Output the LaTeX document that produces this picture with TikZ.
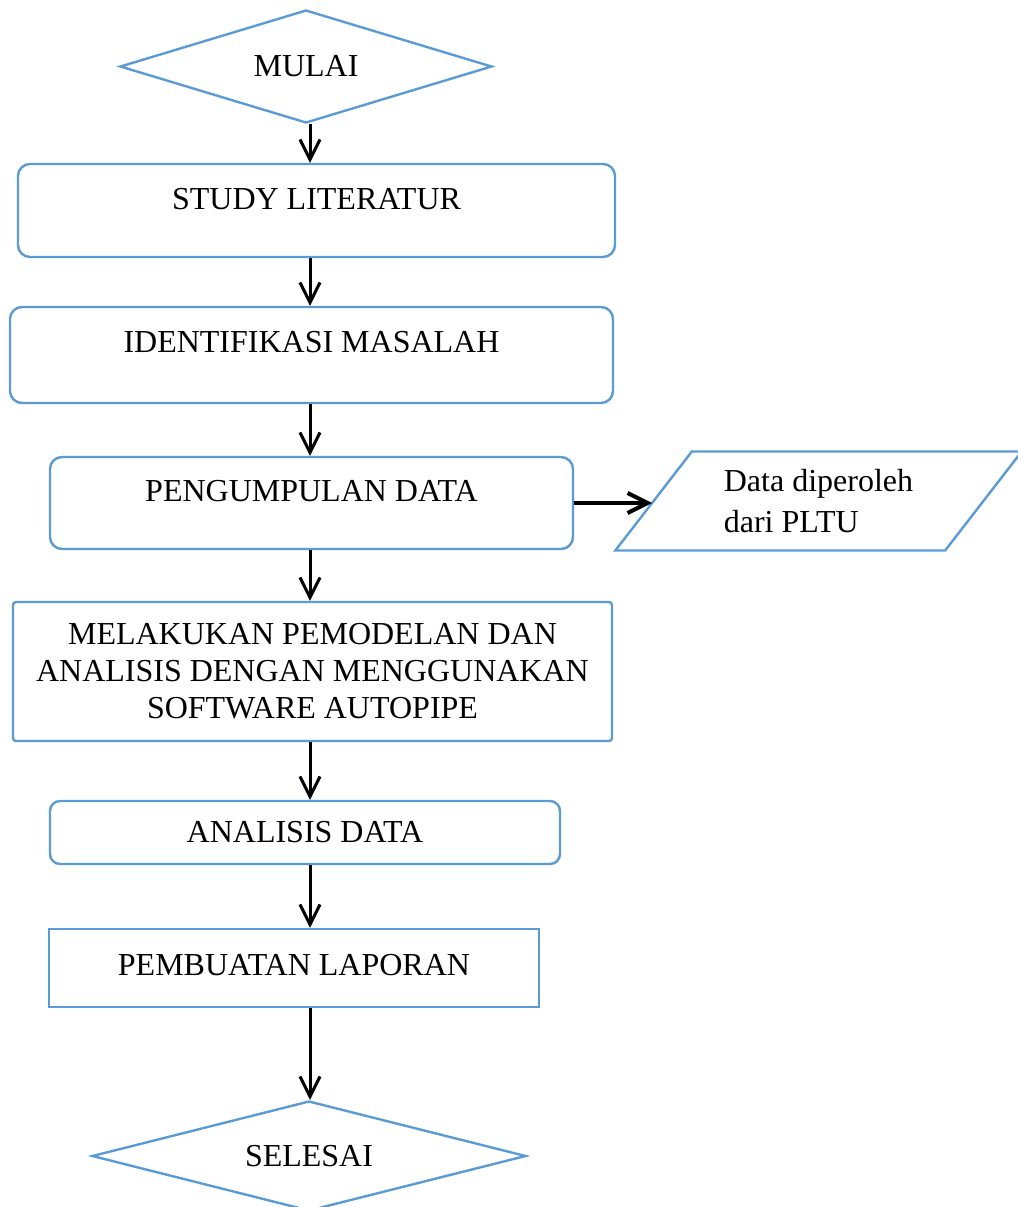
\documentclass[tikz,border=0pt]{standalone}
\usepackage{fontspec}
\setmainfont{Liberation Serif}
\usetikzlibrary{shapes.geometric,arrows.meta}
\definecolor{birugaris}{RGB}{91,155,213}

\begin{document}
\begin{tikzpicture}[
        % --- PENGATURAN UMUM ---
        x=0.5pt, y=-0.5pt, % 1 satuan = 1 piksel gambar asli
        font=\fontsize{16}{18.5}\selectfont,
        % Style untuk kotak proses (sudut membulat)
        proses/.style={
            rectangle,
            rounded corners=6pt,
            draw=birugaris,
            line width=1.2pt,
            align=center
        },
        % Style untuk kotak proses biasa (sudut tajam)
        kotak/.style={
            rectangle,
            draw=birugaris,
            line width=1.2pt,
            align=center
        },
        % Style untuk mulai / selesai (belah ketupat)
        terminal/.style={
            diamond,
            draw=birugaris,
            line width=1.2pt,
            inner sep=0pt
        },
        % Style untuk data masukan (jajar genjang)
        dataio/.style={
            trapezium,
            trapezium left angle=48,
            trapezium right angle=132,
            trapezium stretches=true,
            draw=birugaris,
            line width=1.2pt,
            inner sep=0pt
        },
        % Style untuk panah
        panah/.style={
            -{Straight Barb[length=10pt,width=10pt]},
            line width=1.5pt
        }
    ]

    % Batas gambar
    \useasboundingbox (0,0) rectangle (1018,1207);

    % Sumbu tengah untuk semua panah vertikal
    \coordinate (poros) at (310,0);

    % --- MULAI ---
    \node[terminal, aspect=3.3, minimum width=186pt, minimum height=56.5pt] (mulai) at (306,66.5) {MULAI};

    % --- TAHAP-TAHAP ---
    \node[proses, minimum width=298.5pt, minimum height=46.5pt, text depth=11.5pt] (studi) at (316.5,210.5) {STUDY LITERATUR};
    \node[proses, minimum width=301.5pt, minimum height=48pt, text depth=13pt] (ident) at (311.5,355) {IDENTIFIKASI MASALAH};
    \node[proses, minimum width=261.5pt, minimum height=46pt, text depth=12pt] (kumpul) at (311.5,503) {PENGUMPULAN DATA};
    \node[kotak, rounded corners=1.5pt, minimum width=299.5pt, minimum height=69.5pt] (model) at (312.5,671.5)
        {MELAKUKAN PEMODELAN DAN\\ANALISIS DENGAN MENGGUNAKAN\\SOFTWARE AUTOPIPE};
    \node[proses, rounded corners=5pt, minimum width=255pt, minimum height=31.5pt] (analisis) at (305,832.5) {ANALISIS DATA};
    \node[kotak, minimum width=245pt, minimum height=39pt, text depth=3pt] (laporan) at (294,968) {PEMBUATAN LAPORAN};

    % Data dari PLTU
    \node[dataio, minimum width=203.5pt, minimum height=49.5pt, align=left,
        font=\fontsize{16}{20.5}\selectfont] (data) at (818.5,501) {Data diperoleh\\dari PLTU};

    % --- SELESAI ---
    \node[terminal, aspect=3.9, minimum width=217pt, minimum height=55pt] (selesai) at (309,1156) {SELESAI};

    % --- PANAH ALUR ---
    \draw[panah] (mulai.south -| poros) -- (studi.north -| poros);
    \draw[panah] (studi.south -| poros) -- (ident.north -| poros);
    \draw[panah] (ident.south -| poros) -- (kumpul.north -| poros);
    \draw[panah] (kumpul.south -| poros) -- (model.north -| poros);
    \draw[panah] (model.south -| poros) -- (analisis.north -| poros);
    \draw[panah] (analisis.south -| poros) -- (laporan.north -| poros);
    \draw[panah] (laporan.south -| poros) -- (selesai.north -| poros);
    \draw[panah, line width=2pt] (kumpul.east) -- (kumpul.east -| data.west);

\end{tikzpicture}
\end{document}
